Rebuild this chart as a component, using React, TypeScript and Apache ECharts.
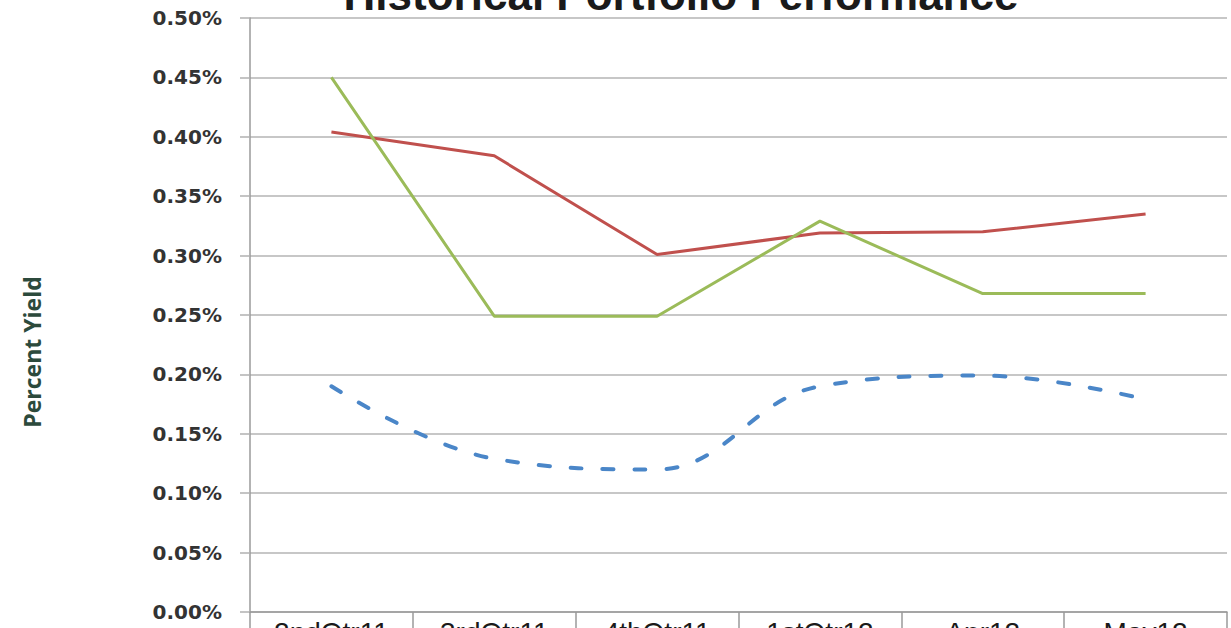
import { useEffect, useRef } from "react";
import * as echarts from "echarts";

const categories = ["2ndQtr11", "3rdQtr11", "4thQtr11", "1stQtr12", "Apr12", "May12"];
const redValues = [0.404, 0.384, 0.301, 0.319, 0.32, 0.335];
const greenValues = [0.45, 0.249, 0.249, 0.329, 0.268, 0.268];
const blueValues = [0.19, 0.129, 0.12, 0.19, 0.199, 0.179];
const titleText = "Historical Portfolio Performance";
const yAxisTitle = "Percent Yield";

export default function App() {
  const ref = useRef<HTMLDivElement>(null);
  useEffect(() => {
    if (!ref.current) return;
    const chart = echarts.init(ref.current, null, { renderer: "svg" });
    chart.setOption({
      animation: false,
      backgroundColor: "#ffffff",
      grid: {
        left: 250,
        right: 4,
        top: 18,
        bottom: 16,
        containLabel: false,
        outerBoundsMode: "none",
      },
      graphic: [
        {
          type: "text",
          x: 681,
          y: -6,
          style: {
            text: titleText,
            align: "center",
            verticalAlign: "middle",
            font: 'bold 44px "Liberation Sans", Arial, sans-serif',
            fill: "#1a1a1a",
          },
        },
        {
          type: "text",
          x: 32,
          y: 352,
          rotation: Math.PI / 2,
          style: {
            text: yAxisTitle,
            align: "center",
            verticalAlign: "middle",
            font: 'bold 23px "Open Sans", "Liberation Sans", sans-serif',
            fill: "#2c4a3c",
          },
        },
      ],
      xAxis: {
        type: "category",
        data: categories,
        boundaryGap: true,
        axisLine: { show: true, lineStyle: { color: "#9a9a9a", width: 1.5 } },
        axisTick: { show: true, length: 30, interval: 0, lineStyle: { color: "#9a9a9a", width: 1.5 } },
        axisLabel: {
          margin: 6,
          interval: 0,
          verticalAlign: "top",
          color: "#1a1a1a",
          fontSize: 28,
          fontFamily: '"Liberation Sans", Arial, sans-serif',
        },
        splitLine: { show: false },
      },
      yAxis: {
        type: "value",
        min: 0,
        max: 0.5,
        interval: 0.05,
        axisLine: { show: true, lineStyle: { color: "#9a9a9a", width: 1.5 } },
        axisTick: { show: true, inside: false, length: 10, lineStyle: { color: "#b0b0b0", width: 1.5 } },
        axisLabel: {
          margin: 28,
          color: "#333333",
          fontWeight: "bold",
          fontSize: 20,
          fontFamily: '"DejaVu Sans", Verdana, sans-serif',
          formatter: (v: number) => v.toFixed(2) + "%",
        },
        splitLine: { show: true, lineStyle: { color: "#b4b4b4", width: 1.5 } },
      },
      series: [
        {
          name: "Red",
          type: "line",
          data: redValues,
          symbol: "none",
          lineStyle: { color: "#c0504d", width: 3 },
          z: 3,
        },
        {
          name: "Green",
          type: "line",
          data: greenValues,
          symbol: "none",
          lineStyle: { color: "#9bbb59", width: 3 },
          z: 4,
        },
        {
          name: "Blue",
          type: "line",
          data: blueValues,
          symbol: "none",
          smooth: 0.4,
          lineStyle: { color: "#4a86c8", width: 4, type: [11, 21], cap: "round" },
          z: 2,
        },
      ],
    });
    return () => chart.dispose();
  }, []);
  return (
    <div
      ref={ref}
      style={{ position: "fixed", left: 0, top: 0, width: 1231, height: 628, background: "#fff" }}
    />
  );
}
